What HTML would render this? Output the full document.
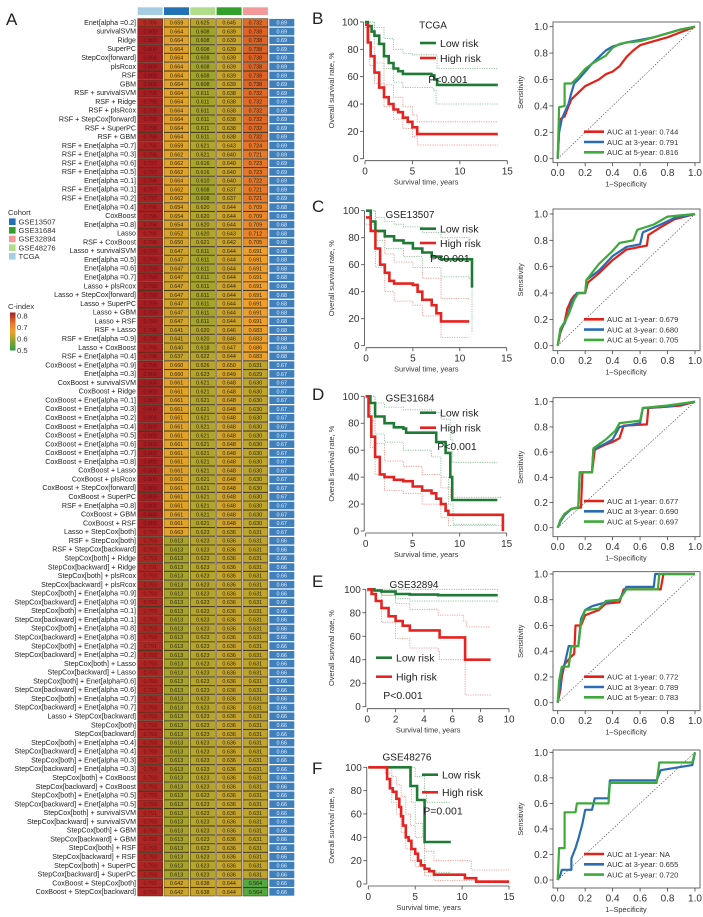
<!DOCTYPE html>
<html><head><meta charset="utf-8"><style>
html,body{margin:0;padding:0;background:#fff;}
svg{display:block;font-family:"Liberation Sans",Arial,sans-serif;}
</style></head><body>
<svg id="fig" width="703" height="917" viewBox="0 0 703 917" xmlns="http://www.w3.org/2000/svg"></svg>
<script>
// ---------- Heatmap data (run-length literals: [value, count]) ----------
const hmRowNames = ["Enet[alpha =0.2]","survivalSVM","Ridge","SuperPC","StepCox[forward]","plsRcox","RSF","GBM","RSF + survivalSVM","RSF + Ridge","RSF + plsRcox","RSF + StepCox[forward]","RSF + SuperPC","RSF + GBM","RSF + Enet[alpha =0.7]","RSF + Enet[alpha =0.3]","RSF + Enet[alpha =0.6]","RSF + Enet[alpha =0.5]","Enet[alpha =0.1]","RSF + Enet[alpha =0.1]","RSF + Enet[alpha =0.2]","Enet[alpha =0.4]","CoxBoost","Enet[alpha =0.8]","Lasso","RSF + CoxBoost","Lasso + survivalSVM","Enet[alpha =0.5]","Enet[alpha =0.6]","Enet[alpha =0.7]","Lasso + plsRcox","Lasso + StepCox[forward]","Lasso + SuperPC","Lasso + GBM","Lasso + RSF","RSF + Lasso","RSF + Enet[alpha =0.9]","Lasso + CoxBoost","RSF + Enet[alpha =0.4]","CoxBoost + Enet[alpha =0.9]","Enet[alpha =0.3]","CoxBoost + survivalSVM","CoxBoost + Ridge","CoxBoost + Enet[alpha =0.1]","CoxBoost + Enet[alpha =0.3]","CoxBoost + Enet[alpha =0.2]","CoxBoost + Enet[alpha =0.4]","CoxBoost + Enet[alpha =0.5]","CoxBoost + Enet[alpha =0.6]","CoxBoost + Enet[alpha =0.7]","CoxBoost + Enet[alpha =0.8]","CoxBoost + Lasso","CoxBoost + plsRcox","CoxBoost + StepCox[forward]","CoxBoost + SuperPC","RSF + Enet[alpha =0.8]","CoxBoost + GBM","CoxBoost + RSF","Lasso + StepCox[both]","RSF + StepCox[both]","RSF + StepCox[backward]","StepCox[both] + Ridge","StepCox[backward] + Ridge","StepCox[both] + plsRcox","StepCox[backward] + plsRcox","StepCox[both] + Enet[alpha =0.9]","StepCox[backward] + Enet[alpha =0.9]","StepCox[both] + Enet[alpha =0.1]","StepCox[backward] + Enet[alpha =0.1]","StepCox[both] + Enet[alpha =0.8]","StepCox[backward] + Enet[alpha =0.8]","StepCox[both] + Enet[alpha =0.2]","StepCox[backward] + Enet[alpha =0.2]","StepCox[both] + Lasso","StepCox[backward] + Lasso","StepCox[both] + Enet[alpha=0.6]","StepCox[backward] + Enet[alpha =0.6]","StepCox[both] + Enet[alpha =0.7]","StepCox[backward] + Enet[alpha =0.7]","Lasso + StepCox[backward]","StepCox[both]","StepCox[backward]","StepCox[both] + Enet[alpha =0.4]","StepCox[backward] + Enet[alpha =0.4]","StepCox[both] + Enet[alpha =0.3]","StepCox[backward] + Enet[alpha =0.3]","StepCox[both] + CoxBoost","StepCox[backward] + CoxBoost","StepCox[both] + Enet[alpha =0.5]","StepCox[backward] + Enet[alpha =0.5]","StepCox[both] + survivalSVM","StepCox[backward] + survivalSVM","StepCox[both] + GBM","StepCox[backward] + GBM","StepCox[both] + RSF","StepCox[backward] + RSF","StepCox[both] + SuperPC","StepCox[backward] + SuperPC","CoxBoost + StepCox[both]","CoxBoost + StepCox[backward]"];
const hmCohorts = ["TCGA","GSE13507","GSE48276","GSE31684","GSE32894"];
const hmTCGA = [[.786,1],[.800,7],[.798,6],[.795,1],[.796,1],[.797,2],[.798,1],[.797,2],[.796,3],[.795,2],[.799,9],[.798,2],[.795,1],[.796,1],[.798,1],[.800,18],[.793,4],[.791,1],[.793,8],[.791,1],[.793,18],[.791,1],[.793,7],[.792,2]];
const hmGSE13507 = [[.659,1],[.664,13],[.659,1],[.662,3],[.664,1],[.662,2],[.654,3],[.652,1],[.650,1],[.647,9],[.641,2],[.640,1],[.637,1],[.660,2],[.661,17],[.663,1],[.613,39],[.642,2]];
const hmGSE48276 = [[.625,1],[.608,7],[.611,6],[.621,2],[.616,2],[.610,1],[.608,2],[.620,4],[.621,1],[.611,9],[.620,2],[.618,1],[.622,1],[.626,1],[.623,1],[.621,17],[.623,40],[.638,2]];
const hmGSE31684 = [[.645,1],[.639,7],[.638,6],[.643,1],[.640,4],[.637,2],[.644,3],[.643,1],[.642,1],[.644,9],[.646,2],[.647,1],[.644,1],[.650,1],[.649,1],[.648,17],[.636,40],[.644,2]];
const hmGSE32894 = [[.732,1],[.738,7],[.732,6],[.724,1],[.721,1],[.723,2],[.722,1],[.721,2],[.709,3],[.712,1],[.705,1],[.691,9],[.683,2],[.686,1],[.683,1],[.631,1],[.629,1],[.630,17],[.631,40],[.564,2]];
const hmMean = [[.69,21],[.68,18],[.67,20],[.66,41]];

// ---------- KM data [time(years), survival %] ----------
const kmB_low  = [[0,100],[0.3,97],[0.7,93],[1,90],[1.5,84],[2,75],[2.5,70],[3,66],[3.5,64],[4,62],[6,62],[7,61],[7.3,58],[7.6,54],[14,54]];
const kmB_lowU = [[0,100],[1,96],[2,88],[3,80],[4,77],[5,76],[7.2,76],[7.6,66],[14,66]];
const kmB_lowL = [[0,100],[1,84],[2,66],[3,56],[4,52],[5,52],[7.2,50],[7.5,40],[14,40]];
const kmB_high = [[0,98],[0.3,85],[0.6,75],[1,63],[1.5,52],[2,45],[2.5,40],[3,36],[3.5,34],[4,30],[4.5,27],[5,23],[5.5,18],[14,18]];
const kmB_highU= [[0,100],[0.5,82],[1,70],[2,54],[3,45],[4,38],[5,32],[5.5,27],[14,27]];
const kmB_highL= [[0,96],[0.5,68],[1,55],[2,38],[3,29],[4,22],[5,16],[5.5,10],[14,10]];

const kmC_low  = [[0,100],[0.5,92],[1,85],[2,81],[3,78],[4,76],[5,72],[6,69],[7,66],[8,64],[11,64],[11.3,43]];
const kmC_lowU = [[0,100],[1,95],[2,92],[3,90],[4,88],[6,84],[8,80],[11,79],[11.3,79]];
const kmC_lowL = [[0,100],[1,78],[2,72],[4,66],[6,58],[8,51],[11,50],[11.3,10]];
const kmC_high = [[0,95],[0.5,85],[1,72],[1.5,60],[2,54],[2.5,48],[3,46],[5,45],[5.5,40],[6,34],[7,30],[7.5,24],[8,18],[11,18]];
const kmC_highU= [[0,100],[1,84],[2,68],[3,62],[5,58],[6,50],[8,35],[11,35]];
const kmC_highL= [[0,90],[1,58],[2,40],[3,33],[5,30],[6,22],[8,6],[11,6]];

const kmD_low  = [[0,100],[0.5,95],[1,85],[2,80],[3,77],[4,76],[4.3,73],[7,73],[7.5,66],[8.5,58],[9,40],[9.2,23],[14,23]];
const kmD_lowU = [[0,100],[1,95],[2,92],[4,90],[7,88],[8,83],[9,68],[9.2,51],[14,51]];
const kmD_lowL = [[0,100],[1,72],[2,66],[4,60],[7,55],[8,40],[8.8,20],[9.3,5],[14,5]];
const kmD_high = [[0,100],[0.3,85],[0.6,70],[1,55],[1.5,42],[2,40],[3,38],[4,37],[5,33],[6,30],[7,28],[7.5,24],[8,20],[8.5,15],[8.8,12],[14.5,12],[14.6,0]];
const kmD_highU= [[0,100],[0.5,82],[1,65],[2,52],[4,48],[6,42],[8,32],[9,25],[14.5,25]];
const kmD_highL= [[0,100],[0.5,62],[1,42],[2,30],[4,28],[6,20],[8,10],[8.8,4],[14.5,4]];

const kmE_low  = [[0,100],[0.5,99],[1,98],[2,96],[3,95.5],[5,95],[9.2,95]];
const kmE_lowU = [[0,100],[9.2,98]];
const kmE_lowL = [[0,99],[1,95],[2,92],[3,90],[9.2,89]];
const kmE_high = [[0,100],[0.3,96],[0.6,90],[1,84],[1.5,77],[2,73],[2.5,69],[3,65],[5,65],[5.1,59],[6.8,59],[6.9,40],[8.7,40]];
const kmE_highU= [[0,100],[1,95],[2,88],[3,83],[5,78],[6.8,73],[7,68],[8.7,68]];
const kmE_highL= [[0,98],[1,72],[2,58],[3,50],[5,47],[5.1,40],[6.8,40],[6.9,10],[8.7,10]];

const kmF_low  = [[0,100],[4.2,100],[4.5,84],[5,84],[5.2,72],[5.8,72],[6,36],[8.8,36]];
const kmF_lowU = [[0,100],[4.5,100],[5,92],[6,80],[6.2,70],[8.8,70]];
const kmF_lowL = [[0,100],[4.2,100],[4.6,70],[5,52],[5.8,40],[6,10],[8.8,10]];
const kmF_high = [[0,100],[1.8,100],[2,90],[2.3,82],[2.6,79],[3,73],[3.3,66],[3.5,58],[3.7,50],[4,40],[4.3,37],[4.6,30],[5,26],[5.3,20],[5.6,16],[6,13],[6.5,11],[7,8],[10,8],[10.3,5],[11.3,5],[11.5,2],[15,2]];
const kmF_highU= [[0,100],[2,100],[2.5,92],[3,85],[3.5,75],[4,60],[4.5,50],[5,40],[6,28],[7,20],[10,20],[11,12],[15,12]];
const kmF_highL= [[0,100],[1.8,95],[2.5,70],[3,60],[3.5,44],[4,30],[4.5,20],[5,15],[6,7],[7,3],[15,0]];

// ---------- ROC data [1-specificity, sensitivity] ----------
const rocB_1y = [[0,0],[0.01,0.22],[0.02,0.3],[0.05,0.32],[0.08,0.4],[0.1,0.45],[0.15,0.5],[0.2,0.55],[0.3,0.6],[0.35,0.64],[0.4,0.66],[0.45,0.7],[0.5,0.77],[0.55,0.82],[0.6,0.86],[0.7,0.89],[0.8,0.92],[0.9,0.96],[1,1]];
const rocB_3y = [[0,0],[0.01,0.2],[0.03,0.3],[0.05,0.35],[0.08,0.42],[0.1,0.5],[0.12,0.57],[0.15,0.6],[0.2,0.66],[0.25,0.72],[0.3,0.77],[0.35,0.82],[0.4,0.85],[0.5,0.88],[0.6,0.9],[0.7,0.92],[0.8,0.95],[0.9,0.98],[1,1]];
const rocB_5y = [[0,0],[0.01,0.39],[0.05,0.40],[0.05,0.57],[0.1,0.57],[0.15,0.62],[0.2,0.68],[0.25,0.72],[0.3,0.75],[0.35,0.78],[0.4,0.84],[0.45,0.87],[0.5,0.88],[0.6,0.89],[0.7,0.92],[0.8,0.95],[0.9,0.98],[1,1]];
const rocC_1y = [[0,0],[0.02,0.1],[0.05,0.18],[0.07,0.28],[0.1,0.35],[0.12,0.38],[0.15,0.4],[0.2,0.4],[0.22,0.48],[0.3,0.55],[0.4,0.65],[0.5,0.73],[0.65,0.76],[0.66,0.84],[0.75,0.9],[0.85,0.96],[1,1]];
const rocC_3y = [[0,0],[0.02,0.12],[0.05,0.17],[0.08,0.25],[0.1,0.33],[0.14,0.4],[0.2,0.4],[0.21,0.5],[0.3,0.57],[0.4,0.68],[0.5,0.75],[0.6,0.77],[0.62,0.86],[0.75,0.92],[0.85,0.97],[1,1]];
const rocC_5y = [[0,0],[0.02,0.13],[0.05,0.18],[0.08,0.24],[0.12,0.35],[0.15,0.4],[0.2,0.4],[0.21,0.5],[0.3,0.62],[0.4,0.72],[0.45,0.78],[0.55,0.8],[0.58,0.88],[0.7,0.92],[0.8,0.98],[1,1]];
const rocD_1y = [[0,0],[0.02,0.05],[0.05,0.1],[0.1,0.15],[0.17,0.16],[0.18,0.44],[0.25,0.44],[0.27,0.62],[0.35,0.66],[0.4,0.68],[0.45,0.71],[0.48,0.81],[0.65,0.82],[0.66,0.95],[0.8,0.96],[0.9,0.97],[1,1]];
const rocD_3y = [[0,0],[0.02,0.05],[0.05,0.1],[0.1,0.15],[0.15,0.16],[0.16,0.44],[0.25,0.44],[0.26,0.62],[0.35,0.67],[0.4,0.7],[0.45,0.8],[0.6,0.83],[0.62,0.95],[0.8,0.96],[1,1]];
const rocD_5y = [[0,0],[0.02,0.06],[0.05,0.11],[0.1,0.15],[0.15,0.16],[0.16,0.44],[0.25,0.44],[0.26,0.63],[0.35,0.7],[0.42,0.77],[0.45,0.83],[0.6,0.85],[0.62,0.95],[0.8,0.97],[1,1]];
const rocE_1y = [[0,0],[0.02,0.1],[0.03,0.2],[0.05,0.3],[0.1,0.36],[0.12,0.38],[0.13,0.6],[0.17,0.6],[0.2,0.68],[0.25,0.7],[0.3,0.72],[0.35,0.77],[0.45,0.78],[0.48,0.88],[0.75,0.88],[0.77,1],[1,1]];
const rocE_3y = [[0,0],[0.02,0.15],[0.03,0.25],[0.05,0.3],[0.08,0.44],[0.15,0.44],[0.17,0.65],[0.2,0.72],[0.25,0.75],[0.35,0.78],[0.45,0.8],[0.5,0.9],[0.7,0.9],[0.71,1],[1,1]];
const rocE_5y = [[0,0],[0.01,0.17],[0.03,0.28],[0.08,0.28],[0.1,0.44],[0.15,0.44],[0.17,0.62],[0.2,0.72],[0.3,0.73],[0.35,0.79],[0.45,0.8],[0.5,0.88],[0.73,0.88],[0.74,1],[1,1]];
const rocF_1y = [];
const rocF_3y = [[0,0],[0.02,0.04],[0.03,0.08],[0.1,0.08],[0.1,0.17],[0.13,0.25],[0.15,0.32],[0.18,0.44],[0.2,0.55],[0.25,0.55],[0.27,0.64],[0.37,0.64],[0.38,0.78],[0.72,0.78],[0.75,0.86],[0.98,0.9],[1,1]];
const rocF_5y = [[0,0],[0.01,0.25],[0.05,0.25],[0.05,0.53],[0.13,0.53],[0.14,0.6],[0.37,0.6],[0.38,0.76],[0.72,0.76],[0.74,0.92],[0.98,0.92],[1,1]];
const aucLabels = {B:["0.744","0.791","0.816"],C:["0.679","0.680","0.705"],D:["0.677","0.690","0.697"],E:["0.772","0.789","0.783"],F:["NA","0.655","0.720"]};
const rocTicks = [0,0.2,0.4,0.6,0.8,1.0];

// ---------- helpers ----------
const NS = "http://www.w3.org/2000/svg";
const svg = document.getElementById('fig');
function mk(tag, attrs, parent){ const e=document.createElementNS(NS,tag); for(const k in attrs) e.setAttribute(k,attrs[k]); (parent||svg).appendChild(e); return e; }
function txt(str, attrs, parent){ const e=mk('text',attrs,parent); e.textContent=str; return e; }
function expand(rl){ const out=[]; rl.forEach(p=>{ for(let i=0;i<p[1];i++) out.push(p[0]); }); return out; }

const cStops=[[0.5,[46,158,72]],[0.56,[79,168,67]],[0.6,[150,164,42]],[0.63,[190,165,46]],[0.66,[224,164,42]],[0.69,[240,160,44]],[0.72,[232,122,42]],[0.75,[216,83,38]],[0.8,[165,29,35]]];
function cmap(v){ if(v<=cStops[0][0]) return 'rgb('+cStops[0][1]+')'; for(let i=1;i<cStops.length;i++){ if(v<=cStops[i][0]){ const a=cStops[i-1],b=cStops[i],t=(v-a[0])/(b[0]-a[0]); return 'rgb('+a[1].map((c,j)=>Math.round(c+(b[1][j]-c)*t)).join(',')+')'; } } return 'rgb('+cStops[cStops.length-1][1]+')'; }

// ---------- Panel A: heatmap ----------
const gA = mk('g',{});


let t = txt('A',{x:6,y:25,'font-size':17,fill:'#222'},gA);



const hmCols=[expand(hmTCGA),expand(hmGSE13507),expand(hmGSE48276),expand(hmGSE31684),expand(hmGSE32894)];
const hmMeanV=expand(hmMean);
const headColors=['#a6cde2','#2271b4','#b1dc8b','#33a02c','#f4999a'];
const rowTop=18.3, rowH=8.78, colX0=137.7, colW=26.3, cellW=25;
const rowY = i => rowTop + i*rowH;
const colX = j => colX0 + j*colW;
hmCohorts.forEach((c,j)=>{
  const r=mk('rect',{x:colX(j),y:7.3,width:cellW,height:7.7,fill:headColors[j]},gA);
  
  
});
hmRowNames.forEach((name,i)=>{
  const y=rowY(i);
  const lb=txt(name,{x:136,y:y+6.6,'font-size':7.1,'text-anchor':'end',fill:'#222'},gA);
  
  
  hmCols.forEach((col,j)=>{
    const v=col[i];
    const r=mk('rect',{x:colX(j),y:y+0.3,width:cellW,height:rowH-0.6,fill:cmap(v),stroke:'#3a2a10','stroke-width':0.5},gA);
    
    
    const ct=txt(v.toFixed(3),{x:colX(j)+cellW/2,y:y+6.3,'font-size':5.4,'text-anchor':'middle',fill:v>0.76?'#6a1015':'#2a2410'},gA);
    
    
  });
  const mv=hmMeanV[i];
  const mr=mk('rect',{x:269.3,y:y+0.6,width:25,height:rowH-1.2,fill:'#3f7fba'},gA);
  
  
  const mt=txt(mv.toFixed(2),{x:281.8,y:y+6.3,'font-size':5.4,'text-anchor':'middle',fill:'#e8f0ff'},gA);
  
  
});
// cohort legend
t=txt('Cohort',{x:8,y:215,'font-size':7.6,fill:'#333'},gA);


const legOrder=[['GSE13507','#2271b4'],['GSE31684','#33a02c'],['GSE32894','#f4999a'],['GSE48276','#b1dc8b'],['TCGA','#a6cde2']];
legOrder.forEach((l,k)=>{
  const cy=221.7+k*8.65;
  const r=mk('rect',{x:9,y:cy-3.3,width:6.6,height:6.6,fill:l[1]},gA);
  
  
  const lt=txt(l[0],{x:18.5,y:cy+2.7,'font-size':7.6,fill:'#333'},gA);
  
  
});
const defs=mk('defs',{});
const lg=mk('linearGradient',{id:'cgrad',x1:0,y1:0,x2:0,y2:1},defs);
[[0,'#a51d23'],[0.3,'#e87a2a'],[0.5,'#f0a02c'],[0.72,'#96a42a'],[1,'#2e9e48']].forEach(s=>mk('stop',{offset:s[0],'stop-color':s[1]},lg));
t=txt('C-index',{x:8,y:309,'font-size':7.6,fill:'#333'},gA);


const gb=mk('rect',{x:10,y:312.5,width:5.5,height:38,fill:'url(#cgrad)'},gA);


[['0.8',316],['0.7',327.5],['0.6',339],['0.5',350.5]].forEach(l=>{
  const lt=txt(l[0],{x:17,y:l[1]+2.7,'font-size':7.6,fill:'#333'},gA);
  
  
});

// ---------- KM + ROC panels ----------
const GREEN='#1e7a35', RED='#e52421';
const ROCC=['#e32119','#2a6db5','#3faa3a'];
const panels=[
 {id:'B',title:'TCGA',P:'P<0.001',letterY:18,
  km:{x0:365,x1:507.3,tmax:15,ticks:[0,5,10,15],y100:22,y0:158.7},
  data:[kmB_low,kmB_lowU,kmB_lowL,kmB_high,kmB_highU,kmB_highL],
  leg:{tx:433,ty:24.5,lx:420,ly1:43,ly2:58,px:448,py:79},
  roc:{top:22,bot:162.7,y1:26.7,y0:158.7,legY:131.7}, rocd:[rocB_1y,rocB_3y,rocB_5y]},
 {id:'C',title:'GSE13507',P:'P<0.001',letterY:206,
  km:{x0:366,x1:506.7,tmax:15,ticks:[0,5,10,15],y100:210.7,y0:345.7},
  data:[kmC_low,kmC_lowU,kmC_lowL,kmC_high,kmC_highU,kmC_highL],
  leg:{tx:410,ty:214,lx:420,ly1:228.7,ly2:243,px:450,py:258},
  roc:{top:209,bot:350.7,y1:214,y0:345.7,legY:319.3}, rocd:[rocC_1y,rocC_3y,rocC_5y]},
 {id:'D',title:'GSE31684',P:'P<0.001',letterY:394,
  km:{x0:365.7,x1:506.7,tmax:15,ticks:[0,5,10,15],y100:396.3,y0:531},
  data:[kmD_low,kmD_lowU,kmD_lowL,kmD_high,kmD_highU,kmD_highL],
  leg:{tx:410,ty:397.7,lx:420,ly1:412.7,ly2:427.7,px:457,py:446},
  roc:{top:397.7,bot:536.7,y1:401.7,y0:527.7,legY:501}, rocd:[rocD_1y,rocD_3y,rocD_5y]},
 {id:'E',title:'GSE32894',P:'P<0.001',letterY:581,
  km:{x0:367.3,x1:509,tmax:10,ticks:[0,2,4,6,8,10],y100:589.3,y0:706.7},
  data:[kmE_low,kmE_lowU,kmE_lowL,kmE_high,kmE_highU,kmE_highL],
  leg:{tx:414,ty:584,lx:376,ly1:657.7,ly2:676.7,px:403,py:695},
  roc:{top:571.7,bot:710.7,y1:574,y0:702.7,legY:676.7}, rocd:[rocE_1y,rocE_3y,rocE_5y]},
 {id:'F',title:'GSE48276',P:'P=0.001',letterY:768,
  km:{x0:368.3,x1:509,tmax:15,ticks:[0,5,10,15],y100:767.3,y0:884},
  data:[kmF_low,kmF_lowU,kmF_lowL,kmF_high,kmF_highU,kmF_highL],
  leg:{tx:407,ty:756.7,lx:422,ly1:774.7,ly2:792.3,px:443,py:810.7},
  roc:{top:750,bot:888,y1:752.3,y0:880,legY:854}, rocd:[rocF_1y,rocF_3y,rocF_5y]}
];

panels.forEach(p=>{
  const g=mk('g',{});
  
  
  let e=txt(p.id,{x:312,y:p.letterY+6,'font-size':17,fill:'#222'},g);
  
  
  const k=p.km;
  const X=tv=>k.x0+(k.x1-k.x0)*tv/k.tmax;
  const Y=s=>k.y0+(k.y100-k.y0)*s/100;
  const ax=k.x0-1.5, ay=k.y0+2;
  e=mk('line',{x1:ax,y1:Y(0),x2:ax,y2:Y(100),stroke:'#444','stroke-width':0.8},g);
  
  
  [0,20,40,60,80,100].forEach(v=>{
    const tk=mk('line',{x1:ax-3.5,y1:Y(v),x2:ax,y2:Y(v),stroke:'#444','stroke-width':0.8},g);
    
    
    const tl=txt(String(v),{x:ax-5,y:Y(v)+3.5,'font-size':10,'text-anchor':'end',fill:'#333'},g);
    
    
  });
  e=mk('line',{x1:X(0),y1:ay,x2:X(k.tmax),y2:ay,stroke:'#444','stroke-width':0.8},g);
  
  
  k.ticks.forEach(v=>{
    const tk=mk('line',{x1:X(v),y1:ay,x2:X(v),y2:ay+3.5,stroke:'#444','stroke-width':0.8},g);
    
    
    const tl=txt(String(v),{x:X(v),y:ay+14,'font-size':10,'text-anchor':'middle',fill:'#333'},g);
    
    
  });
  e=txt('Survival time, years',{x:(X(0)+X(k.tmax))/2-10,y:ay+24,'font-size':7.4,'text-anchor':'middle',fill:'#333'},g);
  
  
  const my=(Y(0)+Y(100))/2;
  e=txt('Overall survival rate, %',{x:334,y:my,'font-size':7.4,'text-anchor':'middle',fill:'#333',transform:'rotate(-90 334 '+my+')'},g);
  
  
  function step(pts){ if(!pts.length) return ''; let d='M'+X(pts[0][0]).toFixed(1)+' '+Y(pts[0][1]).toFixed(1); for(let i=1;i<pts.length;i++){ d+=' H'+X(pts[i][0]).toFixed(1)+' V'+Y(pts[i][1]).toFixed(1);} return d; }
  const styles=[[GREEN,2.6,null,'km-low-risk-curve'],['#7cb98a',0.8,'1.2,1.2','km-low-risk-ci-upper'],['#7cb98a',0.8,'1.2,1.2','km-low-risk-ci-lower'],
                [RED,2.6,null,'km-high-risk-curve'],['#f08a80',0.8,'1.2,1.2','km-high-risk-ci-upper'],['#f08a80',0.8,'1.2,1.2','km-high-risk-ci-lower']];
  [1,2,4,5,0,3].forEach(i=>{
    const s=styles[i];
    const a={d:step(p.data[i]),fill:'none',stroke:s[0],'stroke-width':s[1]};
    if(s[2]) a['stroke-dasharray']=s[2];
    const pa=mk('path',a,g);
    
    
  });
  const L=p.leg;
  e=txt(p.title,{x:L.tx,y:L.ty+4,'font-size':10,'text-anchor':'middle',fill:'#222'},g);
  
  
  [[L.ly1,GREEN,'Low risk','km-legend-low-risk'],[L.ly2,RED,'High risk','km-legend-high-risk']].forEach(q=>{
    const ln=mk('line',{x1:L.lx,y1:q[0],x2:L.lx+16,y2:q[0],stroke:q[1],'stroke-width':2.6},g);
    
    
    const lt=txt(q[2],{x:L.lx+20,y:q[0]+3.8,'font-size':10.5,fill:'#222'},g);
    
    
  });
  e=txt(p.P,{x:L.px,y:L.py+3.8,'font-size':10.5,'text-anchor':'middle',fill:'#222'},g);
  
  

  // ROC
  const r=p.roc;
  const RX=v=>557.7+(695-557.7)*v;
  const RY=v=>r.y0+(r.y1-r.y0)*v;
  e=mk('rect',{x:553,y:r.top,width:147,height:r.bot-r.top,fill:'none',stroke:'#444','stroke-width':0.8},g);
  
  
  rocTicks.forEach(v=>{
    const tk=mk('line',{x1:RX(v),y1:r.bot,x2:RX(v),y2:r.bot+3.5,stroke:'#444','stroke-width':0.8},g);
    
    
    const tl=txt(v.toFixed(1),{x:RX(v),y:r.bot+13.5,'font-size':10,'text-anchor':'middle',fill:'#333'},g);
    
    
    const tk2=mk('line',{x1:549.5,y1:RY(v),x2:553,y2:RY(v),stroke:'#444','stroke-width':0.8},g);
    
    
    const tl2=txt(v.toFixed(1),{x:548,y:RY(v)+3.5,'font-size':10,'text-anchor':'end',fill:'#333'},g);
    
    
  });
  e=txt('1\u2013Specificity',{x:626,y:r.bot+24,'font-size':7.4,'text-anchor':'middle',fill:'#333'},g);
  
  
  const rm=(r.top+r.bot)/2;
  e=txt('Sensitivity',{x:523,y:rm,'font-size':7.4,'text-anchor':'middle',fill:'#333',transform:'rotate(-90 523 '+rm+')'},g);
  
  
  e=mk('line',{x1:RX(0),y1:RY(0),x2:RX(1),y2:RY(1),stroke:'#444','stroke-width':0.6,'stroke-dasharray':'1.5,1.5'},g);
  
  
  p.rocd.forEach((pts,i)=>{
    if(!pts.length) return;
    const d='M'+pts.map(q=>RX(q[0]).toFixed(1)+' '+RY(q[1]).toFixed(1)).join(' L');
    const pa=mk('path',{d:d,fill:'none',stroke:ROCC[i],'stroke-width':2.2,'stroke-linejoin':'round'},g);
    
    
  });
  ['1','3','5'].forEach((yr,i)=>{
    const ly=r.legY+i*10.3;
    const ln=mk('line',{x1:584,y1:ly,x2:604,y2:ly,stroke:ROCC[i],'stroke-width':2.6},g);
    
    
    const lt=txt('AUC at '+yr+'-year: '+aucLabels[p.id][i],{x:607,y:ly+2.8,'font-size':7.6,fill:'#333'},g);
    
    
  });
});
</script>
</body></html>
